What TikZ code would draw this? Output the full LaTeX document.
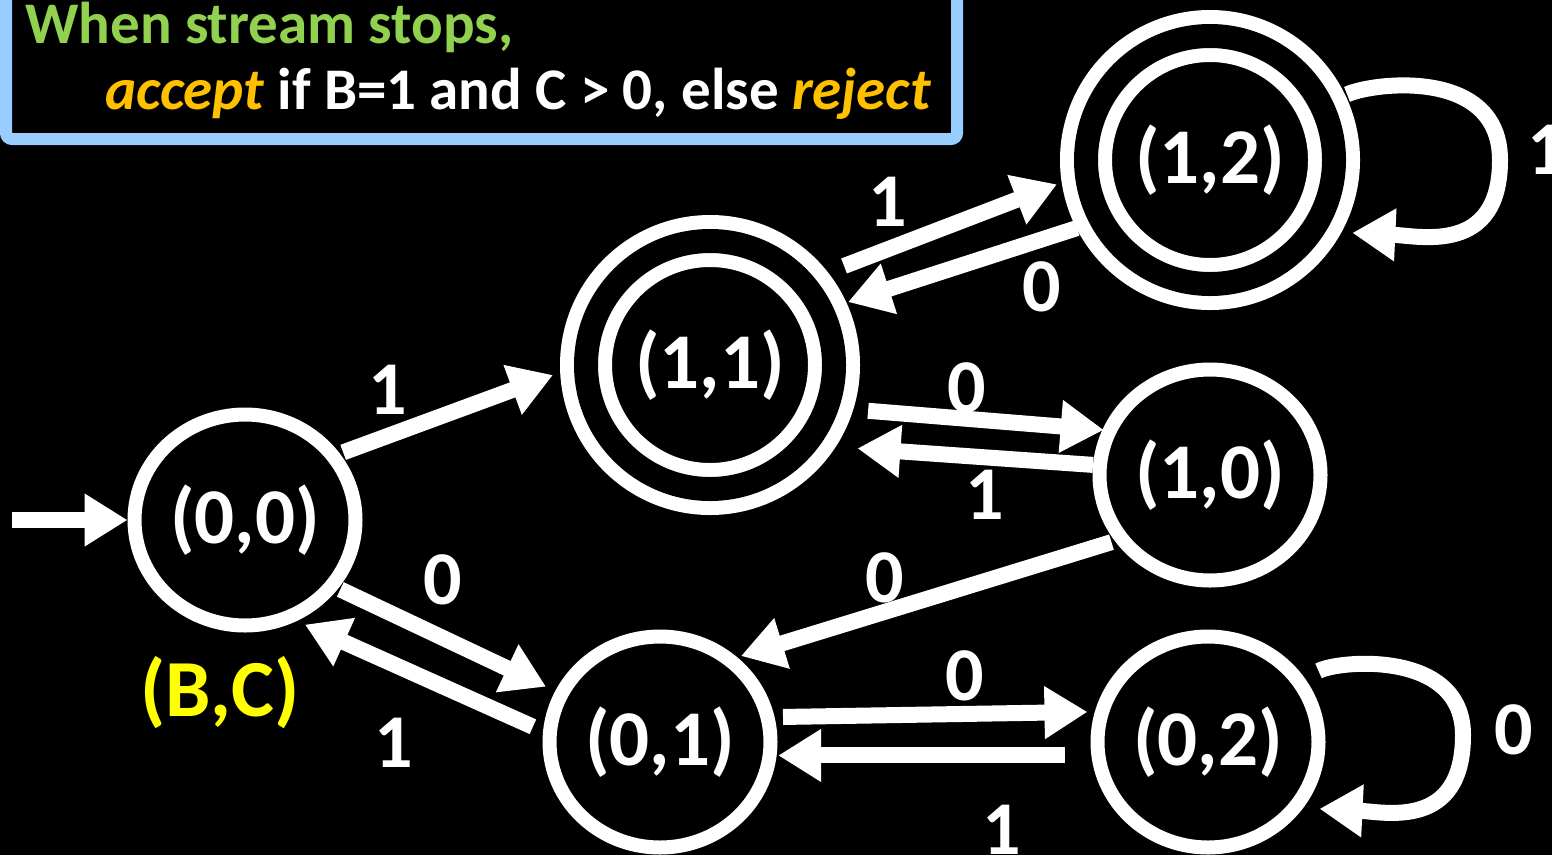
\documentclass[tikz,border=0pt]{standalone}
\usepackage{fontspec}
\setmainfont{Carlito}
\usetikzlibrary{arrows.meta,shapes.geometric,calc}
\definecolor{boxblue}{HTML}{99CCFF}
\definecolor{hgreen}{HTML}{92D050}
\definecolor{horange}{HTML}{FFC000}
\definecolor{hyellow}{HTML}{FFFF00}
\begin{document}
\begin{tikzpicture}[x=1pt,y=-1pt,
  statefont/.style={font=\bfseries\fontsize{79}{84}\selectfont},
  single/.style={ellipse,draw=white,line width=14pt,minimum width=221pt,minimum height=211pt,inner sep=0pt,outer sep=0pt,text=white,statefont},
  accepting/.style={circle,draw=white,double=black,line width=14pt,double distance=24pt,minimum size=248pt,inner sep=0pt,outer sep=0pt,text=white,statefont},
  arr/.style={draw=white,line width=16pt,-{Triangle[length=43pt,width=50pt]}},
  lbl/.style={text=white,inner sep=0pt,font=\bfseries\fontsize{76}{80}\selectfont},
  hdr/.style={inner sep=0pt,anchor=base west,font=\bfseries\fontsize{59}{64}\selectfont},
]
\fill[black] (0,0) rectangle (1552,855);
\useasboundingbox (0,0) rectangle (1552,855);

% header box
\draw[boxblue,line width=12pt,rounded corners=6pt,fill=black] (6,-40) rectangle (957,139);
\node[hdr,text=hgreen] (h1) at (25,43) {When stream stops,};
\node[hdr,text=white] (h2) at (105,109) {{\color{horange}\itshape accept} if B=1 and C > 0, else {\color{horange}\itshape reject}};

% states
\node[single] (n00) at (245,520) {(0,0)};
\node[accepting] (n11) at (710,365) {(1,1)};
\node[accepting] (n12) at (1210,160) {(1,2)};
\node[single] (n10) at (1210,475) {(1,0)};
\node[single] (n01) at (660,742) {(0,1)};
\node[single] (n02) at (1208,742) {(0,2)};

\node[text=hyellow,inner sep=0pt,font=\bfseries\fontsize{81}{84}\selectfont] (bc) at (220,693) {(B,C)};

% start arrow
\coordinate (start) at (12,520);
\draw[arr,shorten >=7pt] (start) -- (n00.180);

% transitions
\draw[arr,shorten <=10.9pt,shorten >=35.2pt] (n00.36.2) -- (n11.179.0);
\draw[arr,shorten <=44.9pt,shorten >=31.8pt] (n11.42.8) -- (n12.186.4);
\draw[arr,shorten <=25.8pt,shorten >=27.9pt] (n12.209.0) -- (n11.26.0);
\draw[arr,shorten <=41.7pt,shorten >=6.2pt] (n11.-20.0) -- (n10.156.7);
\draw[arr,shorten <=7pt,shorten >=52.6pt] (n10.175.6) -- (n11.-40.3);
\draw[arr,shorten <=11.1pt,shorten >=12.4pt] (n10.216.6) -- (n01.50.8);
\draw[arr,shorten <=9.5pt,shorten >=17.2pt] (n00.-37.3) -- (n01.154.9);
\draw[arr,shorten <=18.5pt,shorten >=18.3pt] (n01.176.7) -- (n00.-66.1);
\draw[arr,shorten <=15.6pt,shorten >=14.7pt] (n01.13.0) -- (n02.164.6);
\draw[arr,shorten <=33.5pt,shorten >=8.6pt] (n02.187.2) -- (n01.-7.8);

% self loops
\draw[arr,shorten <=28pt] (n12.26.6) .. controls (1375,82) and (1500,68) .. (1500,160)
  .. controls (1500,255) and (1420,236) .. ($(n12.-36.1)+(42,0)$);
\draw[arr,shorten <=22.7pt] (n02.34.8) .. controls (1340,660) and (1463,650) .. (1463,735)
  .. controls (1463,830) and (1385,812) .. ($(n02.-38.9)+(26,0)$);

% labels
\node[lbl] (l1) at (388,390) {1};
\node[lbl] (l2) at (888,202) {1};
\node[lbl] (l3) at (1042,287) {0};
\node[lbl] (l4) at (1547,150) {1};
\node[lbl] (l5) at (967,388) {0};
\node[lbl] (l6) at (985,495) {1};
\node[lbl] (l7) at (885,578) {0};
\node[lbl] (l8) at (443,580) {0};
\node[lbl] (l9) at (394,743) {1};
\node[lbl] (l10) at (965,676) {0};
\node[lbl] (l11) at (1002,830) {1};
\node[lbl] (l12) at (1514,730) {0};
\end{tikzpicture}
\end{document}
